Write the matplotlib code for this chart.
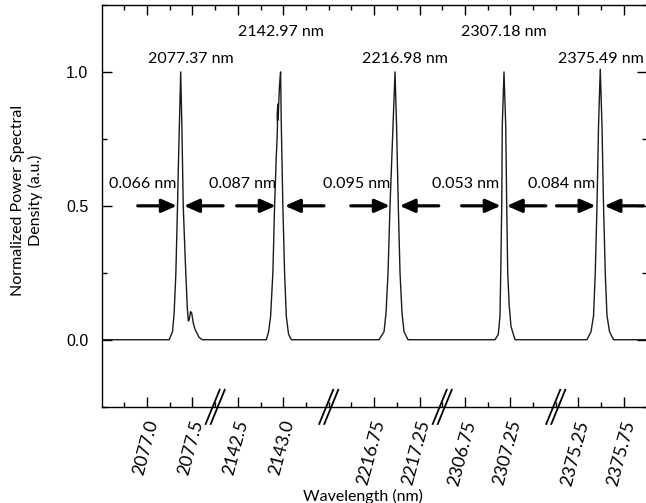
import matplotlib
matplotlib.use('Agg')
import matplotlib.pyplot as plt
import matplotlib.transforms as mtransforms

plt.rcParams['font.family'] = ['Lato', 'DejaVu Sans']

# peak centres (nm) and measured FWHM (nm)
peak_wl = [2077.37, 2142.97, 2216.98, 2307.18, 2375.49]
fwhm = [0.066, 0.087, 0.095, 0.053, 0.084]

# line shape of each peak: offset from centre (nm), PSD
p1_dx = [-0.127, -0.090, -0.072, -0.053, -0.035, -0.024, 0.0, 0.013, 0.028, 0.050,
         0.072, 0.084, 0.094, 0.108, 0.121, 0.140, 0.160, 0.204, 0.240]
p1_y = [0.0, 0.03, 0.10, 0.25, 0.50, 0.67, 1.0, 0.80, 0.50, 0.30,
        0.124, 0.07, 0.075, 0.105, 0.10, 0.06, 0.037, 0.008, 0.0]
p2_dx = [-0.157, -0.132, -0.110, -0.085, -0.066, -0.048, -0.040, -0.034, -0.038,
         -0.030, -0.026, -0.022, -0.012, 0.0, 0.008, 0.025, 0.044, 0.063, 0.088, 0.118]
p2_y = [0.0, 0.03, 0.087, 0.25, 0.50, 0.68, 0.74, 0.80, 0.84,
        0.88, 0.82, 0.87, 0.95, 1.0, 0.80, 0.50, 0.25, 0.087, 0.02, 0.0]
p3_dx = [-0.176, -0.121, -0.099, -0.077, -0.055, -0.022, 0.0, 0.017, 0.036,
         0.055, 0.077, 0.099, 0.143]
p3_y = [0.0, 0.03, 0.10, 0.25, 0.50, 0.80, 1.0, 0.80, 0.50,
        0.25, 0.10, 0.03, 0.0]
p4_dx = [-0.099, -0.063, -0.044, -0.036, -0.025, -0.019, 0.0, 0.019, 0.030,
         0.041, 0.052, 0.056, 0.062, 0.077, 0.121]
p4_y = [0.0, 0.02, 0.09, 0.25, 0.50, 0.80, 1.0, 0.80, 0.50,
        0.25, 0.17, 0.13, 0.11, 0.05, 0.0]
p5_dx = [-0.147, -0.102, -0.074, -0.055, -0.036, -0.019, 0.0, 0.019, 0.036,
         0.055, 0.074, 0.102, 0.147]
p5_y = [0.0, 0.03, 0.09, 0.25, 0.50, 0.80, 1.01, 0.80, 0.50,
        0.25, 0.09, 0.03, 0.0]
profiles = [(p1_dx, p1_y), (p2_dx, p2_y), (p3_dx, p3_y), (p4_dx, p4_y), (p5_dx, p5_y)]

# broken wavelength axis: each piece starts at seg_wl, drawn from seg_u on
seg_wl = [2076.5, 2142.25, 2216.25, 2306.5, 2375.0]
seg_u = [0.0, 1.25, 2.5, 3.75, 5.0]
u_max = 6.0

tick_wl = [2077.0, 2077.5, 2142.5, 2143.0, 2216.75, 2217.25, 2306.75, 2307.25, 2375.25, 2375.75]
tick_txt = ['2077.0', '2077.5', '2142.5', '2143.0', '2216.75', '2217.25',
            '2306.75', '2307.25', '2375.25', '2375.75']


def to_u(wl):
    k = 0
    for i in range(len(seg_wl)):
        if wl >= seg_wl[i]:
            k = i
    return seg_u[k] + (wl - seg_wl[k])


# whole trace on the joined axis
xs = [0.0]
ys = [0.0]
for pk, (dx, yy) in zip(peak_wl, profiles):
    uc = to_u(pk)
    xs += [uc + d for d in dx]
    ys += yy
xs.append(u_max)
ys.append(0.0)

fig = plt.figure(figsize=(6.46, 5.03), dpi=100)
ax = fig.add_axes([0.1574, 0.1915, 0.8435, 0.7986])

ax.plot(xs, ys, color='#1a1a1a', lw=1.0)

ax.set_xlim(0, u_max)
ax.set_ylim(-0.25, 1.25)

ax.set_xticks([to_u(w) for w in tick_wl])
ax.set_xticklabels(tick_txt)
minor = [0.25 * i for i in range(1, 24)]
ax.set_xticks(minor, minor=True)
ax.set_yticks([0.0, 0.5, 1.0])
ax.set_yticks([-0.25, 0.25, 0.75, 1.25], minor=True)
ax.set_yticklabels(['0.0', '0.5', '1.0'], fontfamily='Liberation Sans', fontsize=11.5)

ax.tick_params(which='both', direction='in', top=True, right=True, width=1.0)
ax.tick_params(which='major', length=7)
ax.tick_params(which='minor', length=3.5)
ax.tick_params(axis='y', pad=9.5)
ax.tick_params(axis='x', pad=10, labelsize=13)
shift = mtransforms.ScaledTranslation(4 / 72, 0, fig.dpi_scale_trans)
for lab in ax.get_xticklabels():
    lab.set_rotation(75)
    lab.set_rotation_mode('anchor')
    lab.set_ha('right')
    lab.set_va('center')
    lab.set_transform(lab.get_transform() + shift)
for s in ax.spines.values():
    s.set_linewidth(1.0)

# break marks
trans = mtransforms.blended_transform_factory(ax.transData, ax.transAxes)
for b in seg_u[1:]:
    for d in (-0.028, 0.028):
        ax.plot([b + d - 0.077, b + d + 0.077], [-0.043, 0.042], transform=trans,
                color='black', lw=1.3, clip_on=False)

# annotations
arrow = dict(arrowstyle='-|>,head_length=0.45,head_width=0.2', mutation_scale=20,
             lw=2.3, color='black', shrinkA=0, shrinkB=0)
lbl_dx = [0.11, 0.0, 0.11, 0.0, 0.01]
for i, pk in enumerate(peak_wl):
    uc = to_u(pk)
    lt = uc - fwhm[i] / 2 - 0.01
    rt = uc + fwhm[i] / 2 + 0.004
    ax.annotate('', xy=(lt, 0.5), xytext=(lt - 0.43, 0.5), arrowprops=arrow)
    ax.annotate('', xy=(rt, 0.5), xytext=(rt + 0.43, 0.5), arrowprops=arrow)
    ax.text(uc - 0.05, 0.58, '%.3f nm' % fwhm[i], ha='right', va='center', fontsize=11.5)
    ax.text(uc + lbl_dx[i], 1.05 if i % 2 == 0 else 1.15, '%.2f nm' % pk,
            ha='center', va='center', fontsize=11.5)

fig.text(27 / 646, 1 - 200 / 503, 'Normalized Power Spectral\nDensity (a.u.)',
         rotation=90, ha='center', va='center', fontsize=11.5)
fig.text(363 / 646, 1 - 496 / 503, 'Wavelength (nm)', ha='center', va='center', fontsize=11.5)

fig.savefig('out.png', dpi=100)
